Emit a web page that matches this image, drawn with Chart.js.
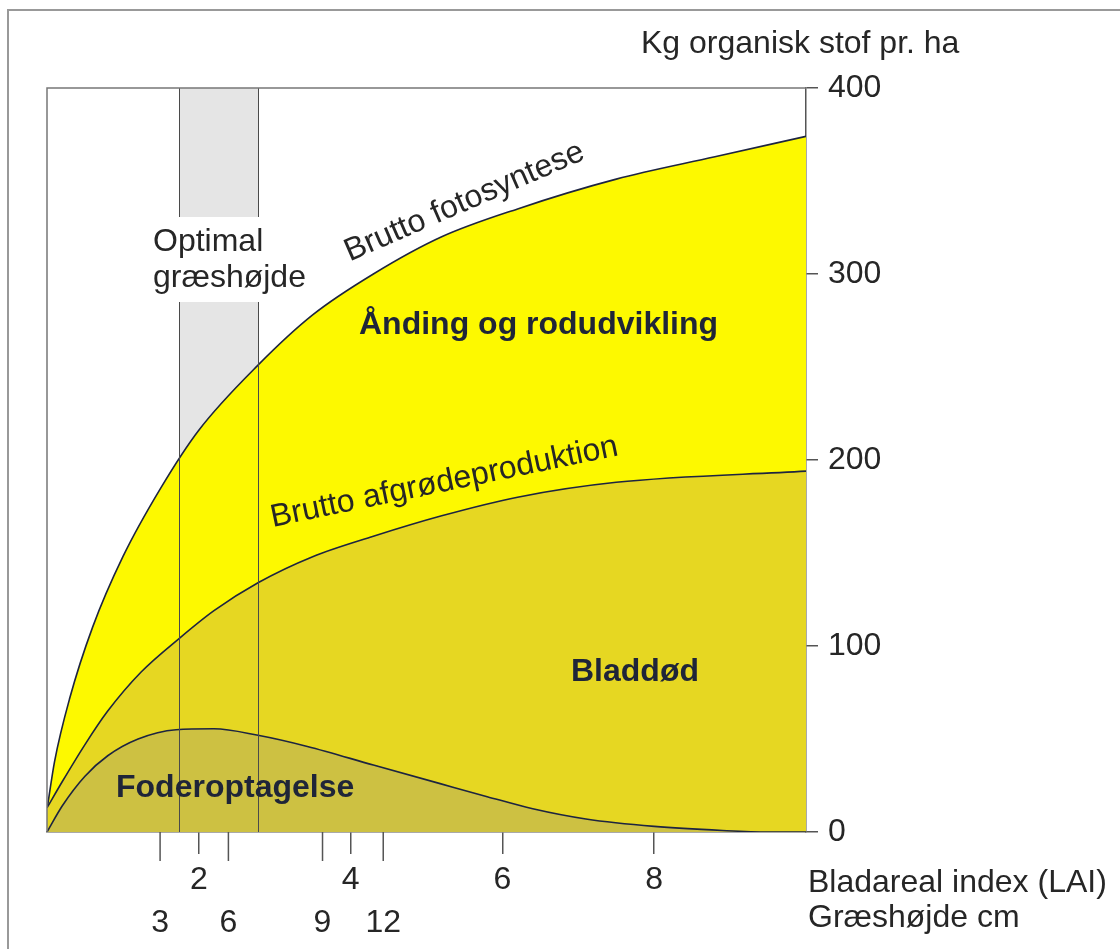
<!DOCTYPE html>
<html>
<head>
<meta charset="utf-8">
<script src="https://cdn.jsdelivr.net/npm/chart.js@4"></script>
<style>
  body { margin: 0; background: #fff; }
  #wrap { width: 1120px; height: 949px; }
</style>
</head>
<body>
<div id="wrap"><canvas id="grassChart"></canvas></div>
<script>
// データ（LAI = 葉面積指数, 値 = kg 有機物 / ha）
let fotoLai = [0, 0.1, 0.3, 0.6, 1.0, 1.5, 2.0, 2.78, 3.5, 4.3, 5.2, 6.2, 7.5, 8.8, 10];
let fotoVal = [12, 38, 72, 110, 148, 185, 216, 251, 278, 300, 320, 335, 351, 363, 374];

let afgLai = [0, 0.2, 0.5, 0.8, 1.24, 1.74, 2.2, 2.78, 3.5, 4.3, 5.2, 6.2, 7.5, 10];
let afgVal = [13, 27, 47, 65, 86, 104, 119, 134, 148, 159, 170, 180, 188, 194];

let foderLai = [0, 0.2, 0.5, 0.8, 1.2, 1.7, 2.2, 2.78, 3.43, 4.3, 5.18, 5.8, 6.4, 7.1, 8.0, 8.9, 9.5, 10];
let foderVal = [0, 14, 30, 41, 50, 55, 55.5, 52, 46, 36, 26, 19, 12.5, 7, 3, 0.8, 0, 0];

let laiTicks = [2, 4, 6, 8];
let yTicks = [0, 100, 200, 300, 400];
let grassCm = ['3', '6', '9', '12'];      // 草丈 cm
let grassLai = [1.49, 2.39, 3.63, 4.43];   // 草丈目盛りのLAI位置
let optimalBand = [1.74, 2.78];            // 最適草丈の帯

let toPoints = (xs, ys) => xs.map((x, i) => ({ x: x, y: ys[i] }));

let FONT = '"Liberation Sans", Arial, Helvetica, sans-serif';
let LINE = '#1d2440';
let INK = '#262626';

// 帯・枠・文字を描くプラグイン
let decoPlugin = {
    id: 'deco',
    beforeDatasetsDraw(chart) {
        let ctx = chart.ctx;
        let a = chart.chartArea;
        let x = chart.scales.x;
        let x0 = x.getPixelForValue(optimalBand[0]);
        let x1 = x.getPixelForValue(optimalBand[1]);
        ctx.save();
        ctx.fillStyle = '#e5e5e5';
        ctx.fillRect(x0, a.top, x1 - x0, 217 - a.top);
        ctx.fillRect(x0, 302, x1 - x0, a.bottom - 302);
        ctx.restore();
    },
    afterDatasetsDraw(chart) {
        let ctx = chart.ctx;
        let a = chart.chartArea;
        let x = chart.scales.x;
        ctx.save();
        // 帯の縦線
        ctx.strokeStyle = '#4a4a4a';
        ctx.lineWidth = 1;
        optimalBand.forEach(v => {
            let px = Math.round(x.getPixelForValue(v)) + 0.5;
            ctx.beginPath();
            ctx.moveTo(px, a.top);
            ctx.lineTo(px, 217);
            ctx.moveTo(px, 302);
            ctx.lineTo(px, a.bottom);
            ctx.stroke();
        });
        // プロット枠（左・上）
        ctx.strokeStyle = '#777';
        ctx.lineWidth = 1.5;
        ctx.beginPath();
        ctx.moveTo(a.left, a.bottom);
        ctx.lineTo(a.left, a.top);
        ctx.lineTo(a.right, a.top);
        ctx.stroke();
        ctx.restore();
    },
    afterDraw(chart) {
        let ctx = chart.ctx;
        let a = chart.chartArea;
        let x = chart.scales.x;
        ctx.save();
        // 外枠
        ctx.strokeStyle = '#999';
        ctx.lineWidth = 2;
        ctx.beginPath();
        ctx.moveTo(8, 949);
        ctx.lineTo(8, 10);
        ctx.lineTo(1120, 10);
        ctx.stroke();

        // 草丈の目盛り
        ctx.strokeStyle = '#555';
        ctx.lineWidth = 1.5;
        ctx.fillStyle = INK;
        ctx.font = '32px ' + FONT;
        ctx.textAlign = 'center';
        ctx.textBaseline = 'alphabetic';
        grassLai.forEach((v, i) => {
            let px = x.getPixelForValue(v);
            ctx.beginPath();
            ctx.moveTo(px, a.bottom);
            ctx.lineTo(px, a.bottom + 29);
            ctx.stroke();
            ctx.fillText(grassCm[i], px, 932);
        });

        // 軸タイトル
        ctx.textAlign = 'left';
        ctx.fillText('Kg organisk stof pr. ha', 641, 53);
        ctx.fillText('Bladareal index (LAI)', 808, 892);
        ctx.fillText('Græshøjde cm', 808, 927);
        ctx.fillText('Optimal', 153, 251);
        ctx.fillText('græshøjde', 153, 287);

        // 曲線ラベル（斜め）
        ctx.textAlign = 'center';
        ctx.save();
        ctx.translate(468, 210);
        ctx.rotate(-23.5 * Math.PI / 180);
        ctx.fillText('Brutto fotosyntese', 0, 0);
        ctx.restore();
        ctx.save();
        ctx.translate(446, 491);
        ctx.rotate(-11.7 * Math.PI / 180);
        ctx.fillText('Brutto afgrødeproduktion', 0, 0);
        ctx.restore();

        // 領域ラベル（太字）
        ctx.textAlign = 'left';
        ctx.fillStyle = '#1f2538';
        ctx.font = 'bold 32px ' + FONT;
        ctx.fillText('Ånding og rodudvikling', 359, 334);
        ctx.fillText('Bladdød', 571, 681);
        ctx.fillText('Foderoptagelse', 116, 797);
        ctx.restore();
    }
};

let grassCtx = document.getElementById('grassChart').getContext('2d');

let grassChart = new Chart(grassCtx, {
    type: 'line',
    data: {
        datasets: [
            {
                label: 'Foderoptagelse',
                data: toPoints(foderLai, foderVal),
                borderColor: LINE,
                borderWidth: 1.6,
                backgroundColor: '#cdc142', // オリーブ
                fill: 'origin',
                pointRadius: 0,
                cubicInterpolationMode: 'monotone'
            },
            {
                label: 'Brutto afgrødeproduktion',
                data: toPoints(afgLai, afgVal),
                borderColor: LINE,
                borderWidth: 1.6,
                backgroundColor: '#e6d722', // 濃い黄
                fill: 'origin',
                pointRadius: 0,
                cubicInterpolationMode: 'monotone'
            },
            {
                label: 'Brutto fotosyntese',
                data: toPoints(fotoLai, fotoVal),
                borderColor: LINE,
                borderWidth: 1.6,
                backgroundColor: '#fdf900', // 明るい黄
                fill: 'origin',
                pointRadius: 0,
                cubicInterpolationMode: 'monotone'
            }
        ]
    },
    options: {
        responsive: true,
        maintainAspectRatio: false,
        animation: false,
        layout: { padding: { left: 47, top: 88, right: 0, bottom: 0 } },
        plugins: {
            legend: { display: false },
            tooltip: { enabled: false }
        },
        scales: {
            x: {
                type: 'linear',
                min: 0,
                max: 10,
                afterBuildTicks: s => { s.ticks = laiTicks.map(v => ({ value: v })); },
                afterFit: s => { s.height = 117; },
                grid: { drawOnChartArea: false, tickLength: 22, color: '#555', lineWidth: 1.5 },
                border: { display: true, color: '#555', width: 1.5 },
                ticks: { color: INK, font: { size: 32, family: FONT }, padding: 7, maxRotation: 0 }
            },
            y: {
                position: 'right',
                min: 0,
                max: 400,
                afterBuildTicks: s => { s.ticks = yTicks.map(v => ({ value: v })); },
                afterFit: s => { s.width = 314; },
                grid: { drawOnChartArea: false, tickLength: 12, color: '#555', lineWidth: 1.5 },
                border: { display: true, color: '#555', width: 1.5 },
                ticks: { color: INK, font: { size: 32, family: FONT }, padding: 10 }
            }
        }
    },
    plugins: [decoPlugin]
});
</script>
</body>
</html>
